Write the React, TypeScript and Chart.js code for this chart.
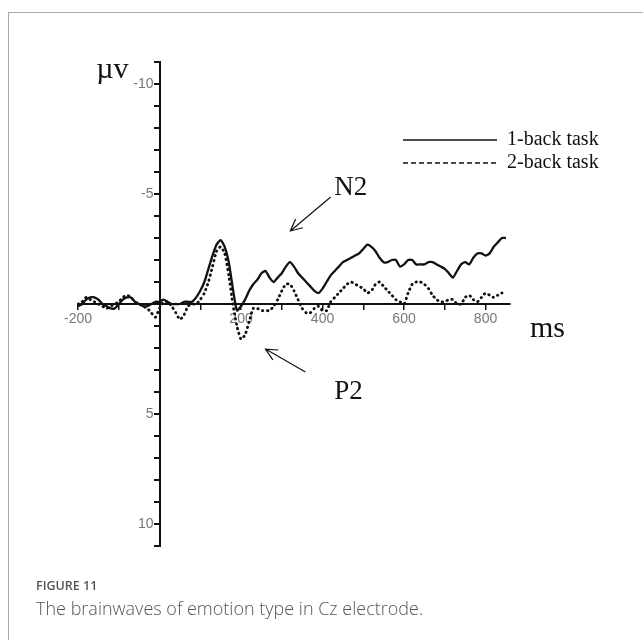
import React, { useEffect, useRef } from 'react';
import { Chart, registerables } from 'chart.js';

Chart.register(...registerables);

// Time axis (ms)
const timesMs = [
  -200, -190, -180, -170, -160, -150, -140, -130, -120, -110,
  -100, -90, -80, -70, -60, -50, -40, -30, -20, -10,
  0, 10, 20, 30, 40, 50, 60, 70, 80, 90,
  100, 110, 120, 130, 140, 150, 160, 170, 180, 190,
  200, 210, 220, 230, 240, 250, 260, 270, 280, 290,
  300, 310, 320, 330, 340, 350, 360, 370, 380, 390,
  400, 410, 420, 430, 440, 450, 460, 470, 480, 490,
  500, 510, 520, 530, 540, 550, 560, 570, 580, 590,
  600, 610, 620, 630, 640, 650, 660, 670, 680, 690,
  700, 710, 720, 730, 740, 750, 760, 770, 780, 790,
  800, 810, 820, 830, 840, 850,
];

// 1-back task amplitude (µV, negative plotted upward)
const oneBack = [
  0.1, 0.0, -0.2, -0.3, -0.3, -0.2, 0.0, 0.1, 0.2, 0.2,
  0.0, -0.2, -0.3, -0.3, -0.1, 0.0, 0.1, 0.1, 0.0, -0.1,
  -0.1, -0.2, -0.1, 0.0, 0.0, 0.0, -0.1, -0.1, -0.1, -0.3,
  -0.6, -1.0, -1.6, -2.2, -2.7, -2.9, -2.6, -1.9, -0.7, 0.3,
  0.1, -0.2, -0.6, -0.9, -1.1, -1.4, -1.5, -1.2, -1.0, -1.2,
  -1.4, -1.7, -1.9, -1.7, -1.4, -1.2, -1.0, -0.8, -0.6, -0.5,
  -0.7, -1.0, -1.3, -1.5, -1.7, -1.9, -2.0, -2.1, -2.2, -2.3,
  -2.5, -2.7, -2.6, -2.4, -2.1, -1.9, -1.9, -2.0, -2.0, -1.7,
  -1.8, -2.0, -2.0, -1.8, -1.8, -1.8, -1.9, -1.9, -1.8, -1.7,
  -1.6, -1.4, -1.2, -1.5, -1.8, -1.9, -1.8, -2.1, -2.3, -2.3,
  -2.2, -2.3, -2.6, -2.8, -3.0, -3.0,
];

// 2-back task amplitude (µV)
const twoBack = [
  0.0, -0.1, -0.3, -0.2, -0.1, 0.0, 0.1, 0.2, 0.1, 0.0,
  -0.1, -0.3, -0.4, -0.3, -0.1, 0.0, 0.1, 0.2, 0.4, 0.6,
  0.2, -0.1, -0.1, 0.1, 0.4, 0.7, 0.5, 0.1, 0.0, 0.0,
  -0.2, -0.5, -1.0, -1.7, -2.4, -2.6, -2.3, -1.3, 0.0, 1.0,
  1.6, 1.4, 0.8, 0.2, 0.2, 0.3, 0.3, 0.3, 0.1, -0.2,
  -0.6, -0.9, -0.9, -0.6, -0.2, 0.2, 0.4, 0.4, 0.2, 0.1,
  0.3, 0.3, -0.1, -0.3, -0.5, -0.7, -0.9, -1.0, -0.9, -0.8,
  -0.7, -0.5, -0.6, -0.9, -1.0, -0.8, -0.6, -0.4, -0.2, -0.1,
  0.0, -0.5, -0.9, -1.0, -1.0, -0.9, -0.7, -0.4, -0.2, -0.1,
  -0.1, -0.2, -0.2, 0.0, 0.0, -0.3, -0.4, -0.2, -0.1, -0.3,
  -0.5, -0.4, -0.3, -0.4, -0.5, -0.6,
];

const seriesNames = ['1-back task', '2-back task'];
const xTickLabels = [-200, 200, 400, 600, 800];
const yTickLabels = [-10, -5, 5, 10];
const xUnit = 'ms';
const yUnit = 'µv';
const componentLabels = ['N2', 'P2'];

const SERIF = '"Liberation Serif", "Times New Roman", Times, serif';
const SANS = '"Liberation Sans", Arial, sans-serif';

function drawArrow(ctx: CanvasRenderingContext2D, x1: number, y1: number, x2: number, y2: number) {
  ctx.beginPath();
  ctx.moveTo(x1, y1);
  ctx.lineTo(x2, y2);
  const ang = Math.atan2(y2 - y1, x2 - x1);
  const len = 13;
  const spread = 0.45;
  ctx.moveTo(x2 - len * Math.cos(ang - spread), y2 - len * Math.sin(ang - spread));
  ctx.lineTo(x2, y2);
  ctx.lineTo(x2 - len * Math.cos(ang + spread), y2 - len * Math.sin(ang + spread));
  ctx.stroke();
}

const overlayPlugin = {
  id: 'overlay',
  afterDraw(chart: any) {
    const { ctx, scales } = chart;
    const x = scales.x;
    const y = scales.y;
    const x0 = x.getPixelForValue(0);
    const y0 = y.getPixelForValue(0);
    ctx.save();

    // y tick labels (left of the centred axis)
    ctx.fillStyle = '#777';
    ctx.font = `14px ${SANS}`;
    ctx.textAlign = 'right';
    ctx.textBaseline = 'middle';
    for (const v of yTickLabels) {
      ctx.fillText(String(v), x0 - 6, y.getPixelForValue(v));
    }

    ctx.fillStyle = '#111';
    ctx.strokeStyle = '#111';

    // unit labels
    ctx.font = `30px ${SERIF}`;
    ctx.textBaseline = 'alphabetic';
    ctx.textAlign = 'right';
    ctx.fillText(yUnit, x0 - 31, y.getPixelForValue(-11) + 16);
    ctx.textAlign = 'left';
    ctx.fillText(xUnit, x.getPixelForValue(860) + 20, y0 + 33);

    // legend
    const lx1 = 403;
    const lx2 = 497;
    const ly = [140, 163];
    ctx.lineWidth = 1.5;
    ctx.setLineDash([]);
    ctx.beginPath();
    ctx.moveTo(lx1, ly[0]);
    ctx.lineTo(lx2, ly[0]);
    ctx.stroke();
    ctx.setLineDash([5, 3]);
    ctx.lineWidth = 1.3;
    ctx.beginPath();
    ctx.moveTo(lx1, ly[1]);
    ctx.lineTo(lx2, ly[1]);
    ctx.stroke();
    ctx.setLineDash([]);
    ctx.font = `20px ${SERIF}`;
    ctx.textBaseline = 'middle';
    ctx.fillText(seriesNames[0], 507, ly[0]);
    ctx.fillText(seriesNames[1], 507, ly[1]);

    // component annotations
    ctx.font = `27px ${SERIF}`;
    ctx.textBaseline = 'alphabetic';
    ctx.lineWidth = 1.2;
    ctx.fillText(componentLabels[0], x.getPixelForValue(429), y.getPixelForValue(-4.95));
    drawArrow(ctx, x.getPixelForValue(420), y.getPixelForValue(-4.86), x.getPixelForValue(321), y.getPixelForValue(-3.32));
    ctx.fillText(componentLabels[1], x.getPixelForValue(429), y.getPixelForValue(4.32));
    drawArrow(ctx, x.getPixelForValue(358), y.getPixelForValue(3.09), x.getPixelForValue(260), y.getPixelForValue(2.05));

    ctx.restore();
  },
};

function EegChart() {
  const canvasRef = useRef<HTMLCanvasElement | null>(null);

  useEffect(() => {
    if (!canvasRef.current) return;
    const chart = new Chart(canvasRef.current, {
      type: 'line',
      data: {
        datasets: [
          {
            label: seriesNames[0],
            data: timesMs.map((t, i) => ({ x: t, y: oneBack[i] })),
            borderColor: '#111',
            borderWidth: 2.3,
            pointRadius: 0,
            tension: 0.2,
            fill: false,
          },
          {
            label: seriesNames[1],
            data: timesMs.map((t, i) => ({ x: t, y: twoBack[i] })),
            borderColor: '#111',
            borderWidth: 2.8,
            borderDash: [0.5, 4.5],
            borderCapStyle: 'round',
            pointRadius: 0,
            tension: 0.2,
            fill: false,
          },
        ],
      },
      options: {
        responsive: false,
        devicePixelRatio: 1,
        animation: false,
        layout: { padding: { left: 78, right: 133, top: 62, bottom: 94 } },
        plugins: {
          legend: { display: false },
          tooltip: { enabled: false },
          title: { display: false },
        },
        scales: {
          x: {
            type: 'linear',
            min: -200,
            max: 860,
            position: { y: 0 } as any,
            grid: {
              display: true,
              drawOnChartArea: false,
              drawTicks: true,
              tickLength: 5,
              color: '#111',
              lineWidth: 1.5,
            },
            border: { display: true, color: '#111', width: 2 },
            ticks: {
              stepSize: 100,
              autoSkip: false,
              includeBounds: false,
              maxRotation: 0,
              color: '#777',
              padding: 2,
              font: { family: SANS, size: 14 },
              callback: (v: any) => (xTickLabels.includes(Number(v)) ? String(v) : ''),
            },
          },
          y: {
            type: 'linear',
            min: -11,
            max: 11,
            reverse: true,
            position: { x: 0 } as any,
            grid: {
              display: true,
              drawOnChartArea: false,
              drawTicks: true,
              tickLength: 5,
              color: '#111',
              lineWidth: 2,
            },
            border: { display: true, color: '#111', width: 2 },
            ticks: {
              stepSize: 1,
              autoSkip: false,
              color: '#777',
              padding: 2,
              font: { family: SANS, size: 14 },
              callback: () => '',
            },
          },
        },
      },
      plugins: [overlayPlugin],
    } as any);
    return () => chart.destroy();
  }, []);

  return (
    <canvas
      ref={canvasRef}
      width={643}
      height={640}
      style={{ position: 'absolute', left: 0, top: 0, width: 643, height: 640 }}
    />
  );
}

export default function App() {
  return (
    <div style={{ position: 'absolute', left: 0, top: 0, width: 643, height: 640, background: '#fff', overflow: 'hidden' }}>
      <div
        style={{
          position: 'absolute',
          left: 8,
          top: 12,
          right: -2,
          bottom: -2,
          borderTop: '1px solid #aaa',
          borderLeft: '1px solid #aaa',
        }}
      />
      <EegChart />
      <div
        style={{
          position: 'absolute',
          left: 36,
          top: 578,
          fontFamily: '"Open Sans", "Noto Sans", sans-serif',
          fontSize: 12.5,
          fontWeight: 600,
          lineHeight: '16px',
          color: '#555',
          whiteSpace: 'nowrap',
        }}
      >
        FIGURE 11
      </div>
      <div
        style={{
          position: 'absolute',
          left: 36,
          top: 596,
          fontFamily: '"Open Sans", "Noto Sans", sans-serif',
          fontSize: 18,
          fontWeight: 300,
          lineHeight: '24px',
          color: '#555',
          whiteSpace: 'nowrap',
        }}
      >
        The brainwaves of emotion type in Cz electrode.
      </div>
    </div>
  );
}
